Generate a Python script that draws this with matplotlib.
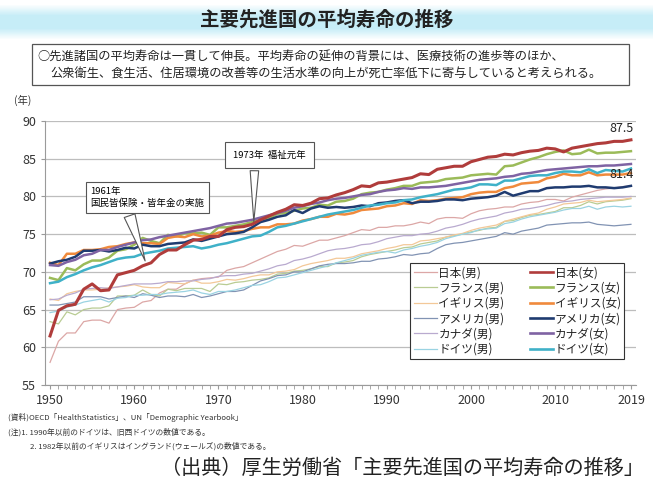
import numpy as np
import matplotlib
matplotlib.use('Agg')
import matplotlib.pyplot as plt
from matplotlib.lines import Line2D

plt.rcParams['font.family'] = ['Noto Sans CJK JP', 'DejaVu Sans']

years = np.arange(1950, 2020)

#values, one per year 1950-2019.
jp_m = [58.0, 60.8, 61.9, 61.9, 63.4, 63.6, 63.6, 63.2, 65.0, 65.2,
        65.3, 66.0, 66.2, 67.2, 67.7, 67.7, 68.4, 68.9, 69.1, 69.2,
        69.3, 70.2, 70.5, 70.7, 71.2, 71.7, 72.2, 72.7, 73.0, 73.5,
        73.4, 73.8, 74.2, 74.2, 74.5, 74.8, 75.2, 75.6, 75.5, 75.9,
        75.9, 76.1, 76.1, 76.3, 76.6, 76.4, 77.0, 77.2, 77.2, 77.1,
        77.7, 78.1, 78.3, 78.4, 78.6, 78.6, 79.0, 79.2, 79.3, 79.6,
        79.6, 79.4, 79.9, 80.2, 80.5, 80.8, 81.0, 81.1, 81.3, 81.4]
jp_f = [61.5, 64.9, 65.5, 65.7, 67.7, 68.4, 67.5, 67.6, 69.6, 69.9,
        70.2, 70.8, 71.2, 72.3, 72.9, 72.9, 73.6, 74.2, 74.3, 74.7,
        74.7, 75.6, 75.9, 76.0, 76.3, 76.9, 77.4, 77.9, 78.3, 78.9,
        78.8, 79.1, 79.7, 79.8, 80.2, 80.5, 80.9, 81.4, 81.3, 81.8,
        81.9, 82.1, 82.3, 82.5, 83.0, 82.9, 83.6, 83.8, 84.0, 84.0,
        84.6, 84.9, 85.2, 85.3, 85.6, 85.5, 85.8, 86.0, 86.1, 86.4,
        86.3, 85.9, 86.4, 86.6, 86.8, 87.0, 87.1, 87.3, 87.3, 87.5]
fr_m = [63.4, 63.1, 64.7, 64.3, 65.0, 65.2, 65.2, 65.5, 66.8, 66.8,
        66.9, 67.6, 67.0, 66.8, 67.7, 67.5, 67.8, 67.8, 67.8, 67.4,
        68.4, 68.3, 68.6, 68.7, 68.9, 69.0, 69.2, 69.7, 69.8, 70.1,
        70.2, 70.4, 70.7, 70.7, 71.2, 71.3, 71.5, 72.0, 72.3, 72.5,
        72.7, 72.9, 73.2, 73.3, 73.7, 73.9, 74.1, 74.6, 74.8, 75.0,
        75.3, 75.5, 75.8, 75.9, 76.7, 76.8, 77.2, 77.5, 77.6, 77.8,
        78.0, 78.5, 78.5, 78.8, 79.3, 79.0, 79.3, 79.4, 79.5, 79.7]
fr_f = [69.2, 68.9, 70.5, 70.2, 71.0, 71.5, 71.5, 71.9, 72.8, 73.0,
        73.6, 74.5, 74.1, 73.8, 74.9, 74.7, 75.1, 75.1, 75.2, 74.9,
        75.9, 75.9, 76.1, 76.3, 76.6, 76.9, 77.1, 77.7, 77.8, 78.1,
        78.4, 78.5, 78.9, 78.8, 79.3, 79.4, 79.7, 80.3, 80.5, 80.6,
        80.9, 81.1, 81.4, 81.4, 81.8, 81.9, 82.0, 82.3, 82.4, 82.5,
        82.8, 82.9, 83.0, 82.9, 84.0, 84.1, 84.5, 84.9, 85.2, 85.6,
        85.9, 86.1, 85.6, 85.7, 86.2, 85.7, 85.8, 85.8, 85.9, 86.0]
uk_m = [66.4, 66.2, 67.1, 67.4, 67.6, 67.6, 67.7, 67.9, 68.0, 68.1,
        68.3, 68.0, 67.9, 67.9, 68.6, 68.5, 68.4, 68.9, 68.5, 68.5,
        68.7, 69.0, 68.9, 69.1, 69.4, 69.6, 69.6, 70.0, 70.1, 70.3,
        70.8, 71.1, 71.3, 71.5, 71.8, 71.8, 72.0, 72.4, 72.6, 72.8,
        73.1, 73.3, 73.6, 73.6, 74.1, 74.2, 74.4, 74.6, 74.9, 75.1,
        75.5, 75.8, 76.0, 76.2, 76.7, 77.0, 77.3, 77.6, 77.8, 78.3,
        78.6, 79.0, 79.1, 79.2, 79.5, 79.3, 79.4, 79.5, 79.6, 79.8]
uk_f = [71.2, 70.9, 72.4, 72.4, 72.9, 72.9, 73.0, 73.3, 73.4, 73.7,
        73.9, 73.8, 73.8, 73.7, 74.5, 74.7, 74.6, 75.0, 74.7, 74.8,
        75.2, 75.4, 75.3, 75.4, 75.7, 75.9, 75.9, 76.3, 76.3, 76.4,
        76.8, 77.0, 77.3, 77.3, 77.7, 77.6, 77.8, 78.2, 78.3, 78.4,
        78.7, 78.8, 79.1, 79.0, 79.5, 79.4, 79.5, 79.7, 79.8, 79.9,
        80.3, 80.5, 80.6, 80.6, 81.1, 81.3, 81.7, 81.8, 81.9, 82.4,
        82.6, 83.0, 82.8, 82.8, 83.2, 82.8, 82.9, 82.9, 82.9, 83.1]
us_m = [65.6, 65.6, 65.8, 66.0, 66.7, 66.7, 66.7, 66.4, 66.6, 66.8,
        66.6, 67.1, 66.9, 66.6, 66.8, 66.8, 66.7, 67.0, 66.6, 66.8,
        67.1, 67.4, 67.4, 67.6, 68.2, 68.8, 69.1, 69.5, 69.6, 70.0,
        70.0, 70.4, 70.8, 71.0, 71.1, 71.1, 71.2, 71.4, 71.4, 71.7,
        71.8, 72.0, 72.3, 72.2, 72.4, 72.5, 73.1, 73.6, 73.8, 73.9,
        74.1, 74.3, 74.5, 74.7, 75.2, 75.0, 75.4, 75.6, 75.8, 76.2,
        76.3, 76.4, 76.5, 76.5, 76.6, 76.3, 76.2, 76.1, 76.2, 76.3]
us_f = [71.1, 71.4, 71.6, 72.0, 72.8, 72.8, 72.9, 72.7, 72.9, 73.2,
        73.1, 73.6, 73.4, 73.4, 73.7, 73.8, 73.9, 74.3, 74.1, 74.4,
        74.7, 75.0, 75.1, 75.3, 75.9, 76.6, 76.9, 77.3, 77.5, 78.2,
        77.8, 78.4, 78.7, 78.5, 78.6, 78.5, 78.6, 78.8, 78.7, 79.1,
        79.2, 79.4, 79.5, 79.1, 79.3, 79.3, 79.4, 79.6, 79.6, 79.5,
        79.7, 79.8, 79.9, 80.1, 80.6, 80.1, 80.4, 80.7, 80.7, 81.1,
        81.2, 81.2, 81.3, 81.3, 81.4, 81.2, 81.2, 81.1, 81.2, 81.4]
ca_m = [66.3, 66.4, 66.9, 67.2, 67.7, 67.8, 67.9, 67.8, 68.0, 68.2,
        68.4, 68.4, 68.4, 68.5, 68.7, 68.7, 68.8, 68.8, 69.0, 69.1,
        69.4, 69.5, 69.5, 69.7, 69.8, 70.1, 70.4, 70.8, 71.0, 71.5,
        71.7, 72.0, 72.4, 72.8, 73.0, 73.1, 73.3, 73.6, 73.7, 74.0,
        74.4, 74.6, 74.8, 74.8, 75.0, 75.1, 75.4, 75.8, 76.0, 76.3,
        76.7, 77.0, 77.2, 77.4, 77.8, 78.0, 78.3, 78.4, 78.6, 78.8,
        79.1, 79.3, 79.4, 79.6, 79.7, 79.8, 79.9, 79.9, 79.9, 80.0]
ca_f = [70.9, 70.8, 71.3, 71.6, 72.2, 72.4, 72.9, 72.9, 73.3, 73.6,
        73.9, 74.2, 74.3, 74.6, 74.8, 75.0, 75.2, 75.4, 75.6, 75.8,
        76.1, 76.4, 76.5, 76.7, 76.9, 77.2, 77.5, 77.8, 78.1, 78.5,
        78.7, 79.0, 79.2, 79.5, 79.7, 79.8, 80.0, 80.2, 80.3, 80.6,
        80.8, 80.9, 81.1, 81.0, 81.2, 81.2, 81.3, 81.4, 81.6, 81.8,
        82.0, 82.2, 82.3, 82.4, 82.6, 82.7, 83.0, 83.1, 83.3, 83.5,
        83.6, 83.7, 83.8, 83.9, 84.0, 84.0, 84.1, 84.1, 84.2, 84.3]
de_m = [64.6, 64.8, 65.3, 65.6, 66.0, 66.2, 66.4, 66.0, 66.5, 66.6,
        66.9, 66.9, 67.0, 67.0, 67.2, 67.3, 67.4, 67.6, 67.2, 67.0,
        67.4, 67.4, 67.6, 67.9, 68.2, 68.3, 68.7, 69.2, 69.3, 69.6,
        69.9, 70.2, 70.5, 70.8, 71.2, 71.5, 71.8, 72.2, 72.4, 72.6,
        72.7, 72.5, 72.9, 73.1, 73.4, 73.6, 73.9, 74.4, 74.7, 75.0,
        75.2, 75.6, 75.7, 75.8, 76.4, 76.6, 77.0, 77.3, 77.5, 77.7,
        77.9, 78.2, 78.4, 78.4, 78.7, 78.3, 78.6, 78.7, 78.6, 78.7]
de_f = [68.5, 68.7, 69.3, 69.7, 70.2, 70.6, 70.9, 71.3, 71.7, 71.9,
        72.0, 72.4, 72.6, 72.8, 73.1, 73.2, 73.3, 73.4, 73.1, 73.3,
        73.6, 73.8, 74.1, 74.4, 74.7, 74.8, 75.3, 75.9, 76.1, 76.4,
        76.7, 77.0, 77.3, 77.6, 77.8, 78.0, 78.2, 78.5, 78.8, 78.9,
        79.1, 79.2, 79.5, 79.6, 79.9, 80.1, 80.3, 80.6, 80.9, 81.0,
        81.2, 81.6, 81.6, 81.5, 82.1, 82.1, 82.4, 82.7, 82.8, 82.8,
        83.1, 83.3, 83.3, 83.2, 83.6, 83.1, 83.5, 83.4, 83.3, 83.7]

male_labels = ['日本(男)', 'フランス(男)', 'イギリス(男)', 'アメリカ(男)', 'カナダ(男)', 'ドイツ(男)']
female_labels = ['日本(女)', 'フランス(女)', 'イギリス(女)', 'アメリカ(女)', 'カナダ(女)', 'ドイツ(女)']
male_data = [jp_m, fr_m, uk_m, us_m, ca_m, de_m]
female_data = [jp_f, fr_f, uk_f, us_f, ca_f, de_f]
male_colors = ['#dca7a6', '#b9cc93', '#f3c898', '#8193b3', '#b9aacf', '#9ad3e2']
female_colors = ['#b03c3b', '#9bbb59', '#f08a3c', '#1f3b70', '#7f63a3', '#3fb1c8']

tick_years = [1950, 1960, 1970, 1980, 1990, 2000, 2010, 2019]

fig = plt.figure(figsize=(6.53, 4.83), dpi=100)

#title band with soft cyan gradient.
band = fig.add_axes([0, 1 - 40/483, 1, 36/483])
grad = np.concatenate([np.linspace(0, 1, 10), np.ones(10), np.linspace(1, 0, 10)])
c_top = np.array([1.0, 1.0, 1.0])
c_mid = np.array([0.78, 0.93, 0.97])
img = c_top[None, None, :] * (1 - grad[:, None, None]) + c_mid[None, None, :] * grad[:, None, None]
img = np.repeat(img, 10, axis=1)
band.imshow(img, aspect='auto', extent=[0, 1, 0, 1])
band.set_axis_off()
band.text(0.5, 0.55, '主要先進国の平均寿命の推移', ha='center', va='center',
          fontsize=14, fontweight='bold', color='#222222')

#summary box.
fig.patches.append(plt.Rectangle((32/653, 1 - 85/483), 597/653, 41/483, transform=fig.transFigure,
                                 fill=False, ec='#555555', lw=0.9))
fig.text(37/653, 1 - 57/483, '○先進諸国の平均寿命は一貫して伸長。平均寿命の延伸の背景には、医療技術の進歩等のほか、',
         fontsize=8.8, va='center', color='#222222')
fig.text(50/653, 1 - 74/483, '公衆衛生、食生活、住居環境の改善等の生活水準の向上が死亡率低下に寄与していると考えられる。',
         fontsize=8.8, va='center', color='#222222')

ax = fig.add_axes([45/653, 98/483, 591/653, 264/483])

for data, lab, col in zip(male_data, male_labels, male_colors):
    ax.plot(years, data, color=col, lw=0.9, zorder=2)
for i, (data, lab, col) in enumerate(zip(female_data, female_labels, female_colors)):
    ax.plot(years, data, color=col, lw=1.8 if i else 2.2, zorder=4 if i == 0 else 3)

ax.set_xlim(1949.4, 2019.6)
ax.set_ylim(55, 90)
ax.set_yticks(np.arange(55, 91, 5))
ax.set_xticks(tick_years)
ax.set_xticks(years, minor=True)
ax.grid(axis='y', color='#bdbdbd', lw=0.9)
ax.set_axisbelow(True)
for s in ['top', 'right']:
    ax.spines[s].set_visible(False)
for s in ['left', 'bottom']:
    ax.spines[s].set_color('#9a9a9a')
ax.tick_params(axis='both', which='both', colors='#9a9a9a', labelcolor='#333333', labelsize=9)
ax.tick_params(axis='x', which='both', length=3)
ax.tick_params(axis='y', length=3)
ax.text(-0.052, 1.065, '(年)', transform=ax.transAxes, fontsize=7.5, color='#333333')

ax.text(2019.3, jp_f[-1] + 0.6, '87.5', ha='right', va='bottom', fontsize=9, color='#222222')
ax.text(2019.3, us_f[-1] + 0.6, '81.4', ha='right', va='bottom', fontsize=9, color='#222222')

#callouts.
ax.annotate('1961年\n国民皆保険・皆年金の実施', xy=(1961.4, 71.1), xytext=(1954.8, 79.85),
            fontsize=6.8, va='center', ha='left',
            bbox=dict(boxstyle='square,pad=0.5', fc='white', ec='#555555', lw=0.8), linespacing=1.3,
            arrowprops=dict(arrowstyle='wedge,tail_width=1.2', fc='white', ec='#555555', lw=0.8,
                            relpos=(0.32, 0.0)), zorder=6)
ax.annotate('1973年  福祉元年', xy=(1974.2, 76.3), xytext=(1971.7, 85.5),
            fontsize=6.8, va='center', ha='left',
            bbox=dict(boxstyle='square,pad=0.85', fc='white', ec='#555555', lw=0.8),
            arrowprops=dict(arrowstyle='wedge,tail_width=0.9', fc='white', ec='#555555', lw=0.8,
                            relpos=(0.3, 0.0)), zorder=6)

handles = [Line2D([], [], color=c, lw=0.9) for c in male_colors] + \
          [Line2D([], [], color=c, lw=1.9) for c in female_colors]
leg = ax.legend(handles, male_labels + female_labels, ncol=2, loc='lower right',
                bbox_to_anchor=(0.99, 0.075), fontsize=8.4, frameon=True, fancybox=False,
                edgecolor='#333333', framealpha=1, labelspacing=0.2, handlelength=2.0,
                handletextpad=0.1, columnspacing=2.2, borderpad=0.3)
leg.get_frame().set_linewidth(0.8)
for t in leg.get_texts():
    t.set_color('#222222')

#footnotes.
fig.text(8/653, 1 - 417/483, '(資料)OECD「HealthStatistics」、UN「Demographic Yearbook」', fontsize=5.6,
         va='center', color='#333333')
fig.text(8/653, 1 - 432/483, '(注)1. 1990年以前のドイツは、旧西ドイツの数値である。', fontsize=5.6,
         va='center', color='#333333')
fig.text(30/653, 1 - 446/483, '2. 1982年以前のイギリスはイングランド(ウェールズ)の数値である。', fontsize=5.6,
         va='center', color='#333333')
fig.text(644/653, 1 - 468/483, '（出典）厚生労働省「主要先進国の平均寿命の推移」', fontsize=14.5,
         ha='right', va='center', color='#222222')

fig.savefig('out.png', dpi=100)
